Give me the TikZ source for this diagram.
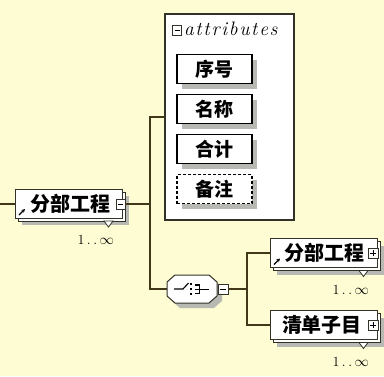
\documentclass[tikz,border=0pt]{standalone}
\usepackage{fontspec}
\newfontfamily\cjk{Noto Sans CJK SC}
\usetikzlibrary{arrows.meta}
\definecolor{bgc}{RGB}{254,252,210}
\definecolor{linec}{RGB}{50,50,40}
\definecolor{connc}{RGB}{64,56,24}
\definecolor{shadowc}{RGB}{185,185,180}
\pgfdeclarelayer{bgl}
\pgfdeclarelayer{cont}
\pgfdeclarelayer{shd}
\pgfdeclarelayer{back}
\pgfsetlayers{bgl,cont,shd,back,main}
\newcommand\lsp{\kern1.7pt}
\begin{document}
\begin{tikzpicture}[x=1pt,y=-1pt,
  every node/.style={inner sep=0pt,outer sep=0pt},
  elem/.style={draw=linec,line width=1pt,fill=white,minimum width=107pt,minimum height=29pt,
    font=\cjk\bfseries\fontsize{20}{20}\selectfont},
  attr/.style={draw=black,line width=1.4pt,fill=white,minimum width=75pt,minimum height=29pt,
    font=\cjk\bfseries\fontsize{19}{19}\selectfont},
  shdbox/.style={fill=shadowc,minimum width=75pt,minimum height=29pt},
  pm/.style={draw=linec,fill=white,line width=0.8pt,minimum width=10pt,minimum height=10pt},
  occ/.style={font=\fontsize{14}{14}\selectfont},
  conn/.style={draw=connc,line width=1.2pt}]
\begin{pgfonlayer}{bgl}
\fill[bgc] (0,0) rectangle (384,376);
\end{pgfonlayer}
\useasboundingbox (0,0) rectangle (384,376);

% ---------- attributes container ----------
\begin{pgfonlayer}{cont}
\node[draw=linec,line width=1.1pt,fill=white,minimum width=129pt,minimum height=206pt] (attrs) at (229.5,117) {};
\end{pgfonlayer}
\node[pm,minimum width=9pt] (attrpm) at (177,30) {};
\draw[line width=0.8pt] ([xshift=-2.5pt]attrpm.center) -- ([xshift=2.5pt]attrpm.center);
\node[anchor=west,font=\itshape\fontsize{19.5}{19.5}\selectfont] (attrtitle) at (184,29)
  {a\lsp t\lsp t\lsp r\lsp i\lsp b\lsp u\lsp t\lsp e\lsp s};

\node[attr] (a1) at (214.5,69) {序号};
\node[attr] (a2) at (214.5,109) {名称};
\node[attr] (a3) at (214.5,149) {合计};
\node[attr,dashed,dash pattern=on 3pt off 2pt] (a4) at (214.5,189) {备注};
\begin{pgfonlayer}{shd}
\node[shdbox] (s1) at (219.5,74) {};
\node[shdbox] (s2) at (219.5,114) {};
\node[shdbox] (s3) at (219.5,154) {};
\node[shdbox] (s4) at (219.5,194) {};
\end{pgfonlayer}

% ---------- element boxes ----------
\node[elem] (main) at (68.5,203.5) {\hspace*{4pt}分部工程};
\node[elem] (c1) at (323.5,253) {\hspace*{2pt}分部工程};
\node[elem] (c2) at (323.5,325) {清单子目\hspace*{3pt}};

\foreach \n in {main,c1,c2}{
  \begin{pgfonlayer}{back}
    \draw[linec,line width=0.9pt,fill=white] ([shift={(3,3)}]\n.north west) rectangle ([shift={(3,3)}]\n.south east);
    \draw[linec,line width=0.8pt,fill=white] ([shift={(-18,3)}]\n.south east) -- ++(9,0) -- ++(-4.5,6) -- cycle;
  \end{pgfonlayer}
  \begin{pgfonlayer}{shd}
    \fill[shadowc] ([shift={(7,7)}]\n.north west) rectangle ([shift={(7,7)}]\n.south east);
  \end{pgfonlayer}
  \node[occ,anchor=east] (\n occ) at ([shift={(-8,22)}]\n.south east) {1\kern2.5pt.\kern2.5pt.\kern2.5pt$\infty$};
}

% reference arrows
\draw[line width=1.1pt,-{Stealth[length=3.5pt,width=3.5pt]}] ([shift={(4,-3)}]main.south west) -- ++(6,-6);
\draw[line width=1.1pt,-{Stealth[length=3.5pt,width=3.5pt]}] ([shift={(4,-3)}]c1.south west) -- ++(6,-6);

% minus / plus boxes
\node[pm,minimum width=9pt] (mainpm) at (120.5,204) {};
\draw[line width=0.8pt] ([xshift=-2.5pt]mainpm.center) -- ([xshift=2.5pt]mainpm.center);
\node[pm] (c1pm) at (373,253) {};
\draw[line width=0.8pt] ([xshift=-3pt]c1pm.center) -- ([xshift=3pt]c1pm.center);
\draw[line width=0.8pt] ([yshift=-3pt]c1pm.center) -- ([yshift=3pt]c1pm.center);
\node[pm] (c2pm) at (373,325) {};
\draw[line width=0.8pt] ([xshift=-3pt]c2pm.center) -- ([xshift=3pt]c2pm.center);
\draw[line width=0.8pt] ([yshift=-3pt]c2pm.center) -- ([yshift=3pt]c2pm.center);

% ---------- choice ----------
\node[minimum width=50pt,minimum height=28pt] (choice) at (192,289) {};
\draw[linec,line width=1pt,fill=white] (175,275) -- (209,275) -- (217,282) -- (217,296) -- (209,303)
  -- (175,303) -- (167,296) -- (167,282) -- cycle;
\begin{pgfonlayer}{shd}
\fill[shadowc] (180,280) -- (214,280) -- (222,287) -- (222,301) -- (214,308)
  -- (180,308) -- (172,301) -- (172,287) -- cycle;
\end{pgfonlayer}
\draw[line width=1.1pt] (174,289) -- (183,289) -- (188.5,283);
\fill (190,283) rectangle (192.4,285.4);
\fill (190,288) rectangle (192.4,290.4);
\fill (190,293) rectangle (192.4,295.4);
\draw[line width=1.1pt] (194.5,285) -- (199.5,285) -- (199.5,293.8) -- (194.5,293.8);
\draw[line width=1.1pt] (194.5,289.3) -- (209,289.3);
\node[pm] (choicepm) at (223,289) {};
\draw[line width=0.8pt] ([xshift=-3pt]choicepm.center) -- ([xshift=3pt]choicepm.center);

% ---------- connectors ----------
\coordinate (leftend) at (0,204);
\coordinate (jA) at (150,204);
\coordinate (jB) at (247,289);
\draw[conn] (leftend) -- (main.west |- leftend);
\draw[conn] (mainpm.east) -- (jA);
\draw[conn] (attrs.west) -| (jA) |- (choice.west);
\draw[conn] (choicepm.east) -- (jB);
\draw[conn] (c1.west) -| (jB) |- (c2.west);
\end{tikzpicture}
\end{document}
